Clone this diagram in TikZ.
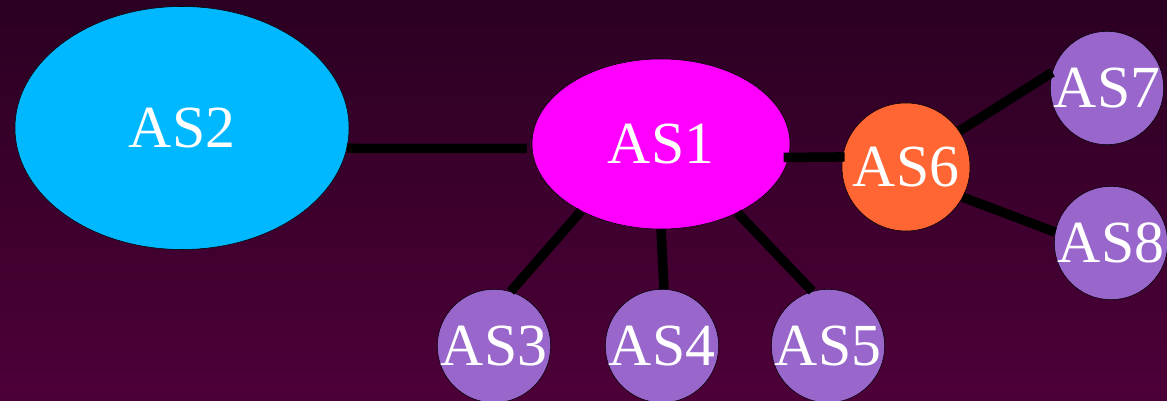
\documentclass[tikz,border=0pt]{standalone}
\usepackage{fontspec}
\setmainfont{Liberation Serif}
\usetikzlibrary{shapes.geometric,positioning}
\definecolor{bgtop}{RGB}{43,0,34}
\definecolor{bgbot}{RGB}{77,0,56}
\definecolor{asblue}{RGB}{0,184,255}
\definecolor{asmagenta}{RGB}{255,0,255}
\definecolor{asorange}{RGB}{255,102,51}
\definecolor{aspurple}{RGB}{153,102,204}

\begin{document}
\begin{tikzpicture}[x=0.2mm,y=-0.2mm,
  asnode/.style={draw=black,line width=0.3pt,inner sep=0pt,text=white,font={\fontsize{34}{37}\selectfont}},
  asoval/.style={asnode,ellipse},
  ascirc/.style={asnode,circle,fill=aspurple,minimum size=22mm},
  link/.style={line width=1.9mm,black}]
% background
\shade[top color=bgtop,bottom color=bgbot] (0,0) rectangle (1167,401);
\useasboundingbox (0,0) rectangle (1167,401);

% autonomous systems
\node[asoval,fill=asblue,minimum width=66.8mm,minimum height=48.6mm] (as2) at (182,128) {AS2};
\node[asoval,fill=asmagenta,minimum width=51.6mm,minimum height=34mm] (as1) at (661,144) {AS1};
\node[asnode,circle,fill=asorange,minimum size=25.6mm] (as6) at (906,167) {AS6};
\node[ascirc] (as3) at (494,346) {AS3};
\node[ascirc] (as4) at (662,346) {AS4};
\node[ascirc] (as5) at (828,346) {AS5};
\node[ascirc] (as7) at (1107,88) {AS7};
\node[ascirc] (as8) at (1111,243) {AS8};

% links
\draw[link,shorten >=1mm] (as2.-7) -- (as1.182);
\draw[link,shorten <=-1mm,shorten >=-0.4mm] (as1.-6) -- (as6.171);
\draw[link] (as1.220) -- (as3.73);
\draw[link] (as1.270) -- (as4.88);
\draw[link] (as1.-42) -- (as5.106);
\draw[link] (as6.34) -- (as7.164);
\draw[link] (as6.-28) -- (as8.169);
\end{tikzpicture}
\end{document}
